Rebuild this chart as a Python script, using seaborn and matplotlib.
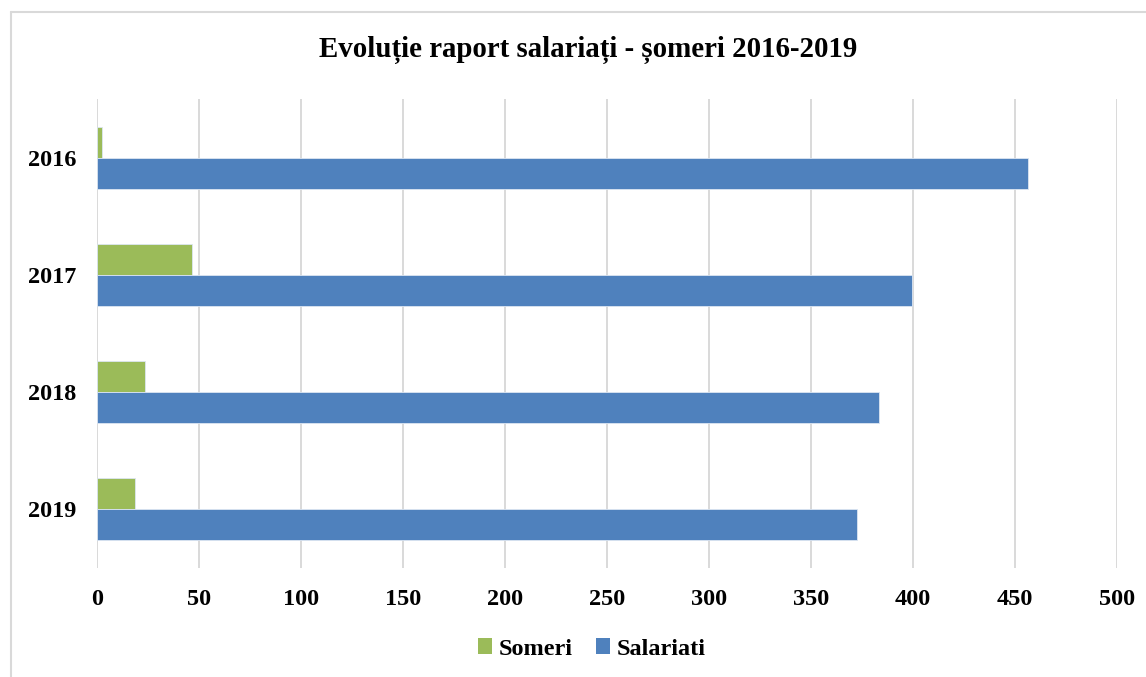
import matplotlib
matplotlib.use("Agg")
import matplotlib.pyplot as plt
import seaborn as sns
import pandas as pd
from matplotlib.patches import Rectangle
from matplotlib.lines import Line2D

years = ["2016", "2017", "2018", "2019"]
series = ["Someri", "Salariati"]
someri = [2.5, 46.7, 23.7, 18.6]
salariati = [456.5, 399.5, 383.5, 372.5]
xticks = [0, 50, 100, 150, 200, 250, 300, 350, 400, 450, 500]
title = "Evoluție raport salariați - șomeri 2016-2019"
colors = {"Someri": "#9BBB59", "Salariati": "#4F81BD"}

df = pd.DataFrame({
    "year": years * 2,
    "series": ["Someri"] * len(years) + ["Salariati"] * len(years),
    "value": someri + salariati,
})

sns.set_theme(style="white")
plt.rcParams["font.family"] = ["Liberation Serif", "DejaVu Serif"]
plt.rcParams["font.weight"] = "bold"
plt.rcParams["text.color"] = "black"
plt.rcParams["xtick.color"] = "black"
plt.rcParams["ytick.color"] = "black"

fig = plt.figure(figsize=(11.46, 6.77), dpi=100)
ax = fig.add_axes([97 / 1146, 1 - 568 / 677, (1117 - 97) / 1146, (568 - 99) / 677])

sns.barplot(data=df, x="value", y="year", hue="series", order=years,
            hue_order=series, palette=colors, saturation=1, orient="h", width=0.53,
            edgecolor="#dce6f2", linewidth=0.6, ax=ax, legend=False)

ax.set_xlim(0, 500)
ax.set_xticks(xticks)
ax.set_xticklabels([str(v) for v in xticks], fontsize=17.5, fontweight="bold", color="black")
ax.set_yticklabels(years, fontsize=17.5, fontweight="bold", color="black")
ax.set_xlabel("")
ax.set_ylabel("")
ax.tick_params(axis="both", length=0)
ax.tick_params(axis="x", pad=15)
ax.tick_params(axis="y", pad=15)
ax.xaxis.grid(True, color="#d9d9d9", linewidth=1.4)
ax.yaxis.grid(False)
ax.set_axisbelow(True)
for s in ax.spines.values():
    s.set_visible(False)

fig.text(588 / 1146, 1 - 50 / 677, title, ha="center", va="center",
         fontsize=20.8, fontweight="bold", color="black")

handles = [Rectangle((0, 0), 1, 1, facecolor=colors[s], edgecolor="none") for s in series]
fig.legend(handles, series, loc="center", bbox_to_anchor=(591.5 / 1146, 1 - 649 / 677),
           ncol=2, frameon=False, handlelength=0.6, handleheight=0.6,
           handletextpad=0.25, columnspacing=0.95,
           prop={"size": 17.5, "weight": "bold"})

# chart frame border (left and top visible)
fig.add_artist(Line2D([11 / 1146, 11 / 1146], [0, 1 - 12 / 677], color="#d9d9d9",
                      linewidth=1.5, transform=fig.transFigure))
fig.add_artist(Line2D([11 / 1146, 1], [1 - 12 / 677, 1 - 12 / 677], color="#d9d9d9",
                      linewidth=1.5, transform=fig.transFigure))

fig.savefig("out.png", dpi=100)
